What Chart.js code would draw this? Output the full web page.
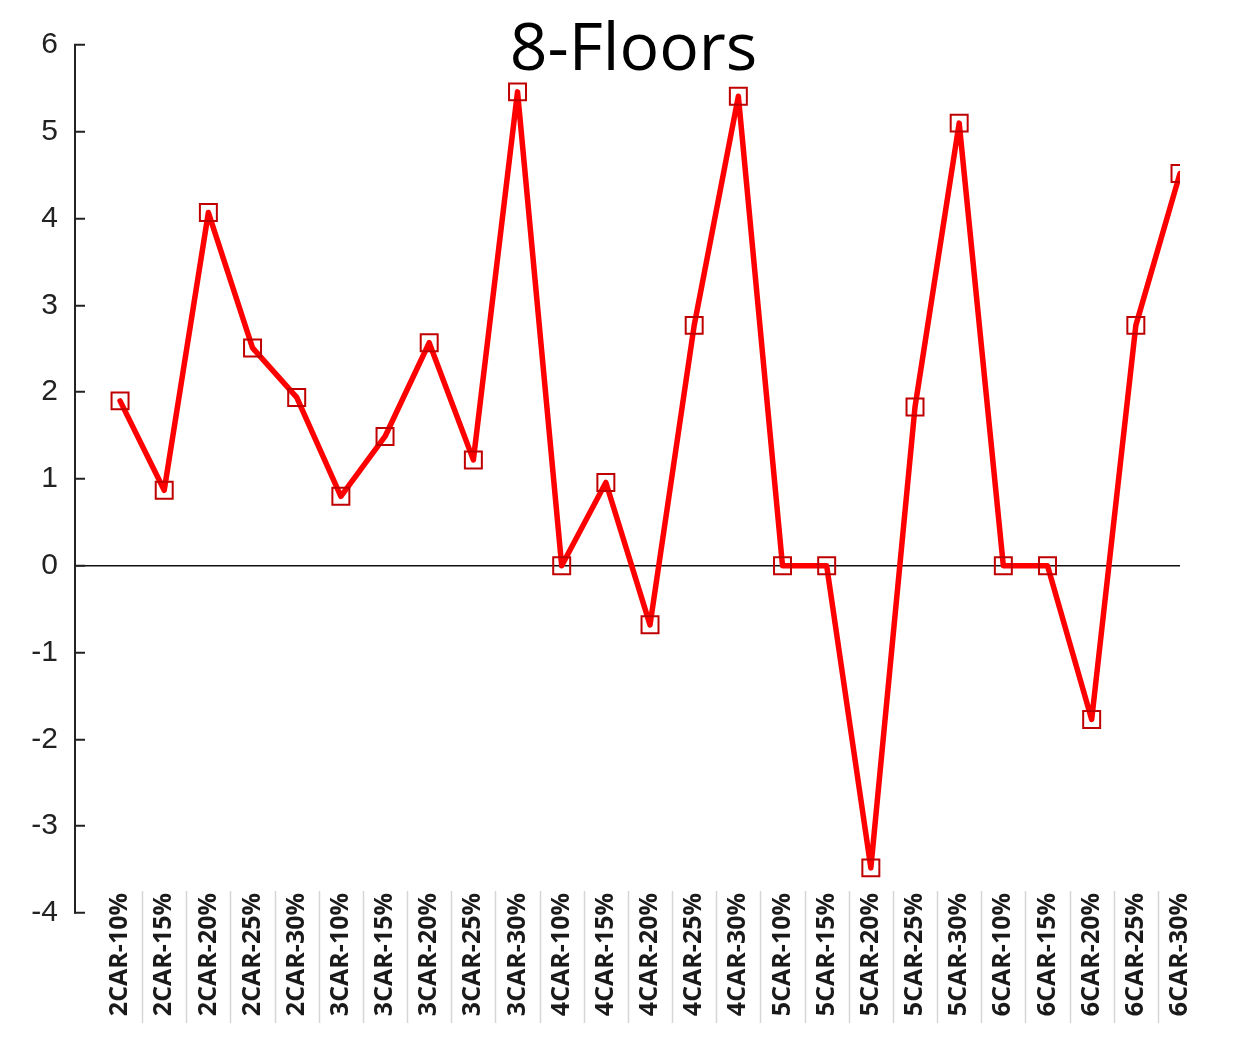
<!DOCTYPE html>
<html>
<head>
<meta charset="utf-8">
<script src="https://cdn.jsdelivr.net/npm/chart.js@4.4.0/dist/chart.umd.min.js"></script>
<style>
  html, body { margin: 0; padding: 0; background: #fff; }
  #wrap { width: 1253px; height: 1045px; }
</style>
</head>
<body>
<div id="wrap"><canvas id="chart"></canvas></div>
<script>
// categorias del eje x
const categories = [
  '2CAR-10%', '2CAR-15%', '2CAR-20%', '2CAR-25%', '2CAR-30%',
  '3CAR-10%', '3CAR-15%', '3CAR-20%', '3CAR-25%', '3CAR-30%',
  '4CAR-10%', '4CAR-15%', '4CAR-20%', '4CAR-25%', '4CAR-30%',
  '5CAR-10%', '5CAR-15%', '5CAR-20%', '5CAR-25%', '5CAR-30%',
  '6CAR-10%', '6CAR-15%', '6CAR-20%', '6CAR-25%', '6CAR-30%'
];
// valores
const diffValues = [
  1.90, 0.87, 4.07, 2.51, 1.94,
  0.80, 1.49, 2.57, 1.22, 5.46,
  0.00, 0.96, -0.68, 2.77, 5.41,
  0.00, 0.00, -3.48, 1.83, 5.10,
  0.00, 0.00, -1.77, 2.77, 4.52
];
const yMin = -4;
const yMax = 6;

// lineas grises entre etiquetas + titulo centrado en todo el canvas
const separators = {
  id: 'separators',
  afterLayout(chart) {
    if (chart.titleBlock) {
      chart.titleBlock.left = 0;
      chart.titleBlock.right = chart.width + 14;
    }
    // las etiquetas del eje x suben un poco sobre el area del grafico
    chart.scales.x.top = chart.chartArea.bottom - 20;
  },
  afterDraw(chart) {
    const x = chart.scales.x;
    const area = chart.chartArea;
    const ctx = chart.ctx;
    ctx.save();
    ctx.strokeStyle = '#d6d6d6';
    ctx.lineWidth = 1.5;
    for (let i = 0; i < categories.length - 1; i++) {
      const px = Math.round(x.getPixelForValue(i + 0.5)) + 0.5;
      ctx.beginPath();
      ctx.moveTo(px, area.bottom - 22);
      ctx.lineTo(px, area.bottom + 110);
      ctx.stroke();
    }
    ctx.restore();
  }
};

new Chart(document.getElementById('chart'), {
  type: 'line',
  data: {
    datasets: [{
      label: '8-Floors',
      data: diffValues.map((v, i) => ({ x: i, y: v })),
      borderColor: '#ff0000',
      borderWidth: 5.5,
      borderJoinStyle: 'round',
      borderCapStyle: 'round',
      tension: 0,
      pointStyle: 'rect',
      pointRadius: 12,
      pointBorderWidth: 2,
      pointBorderColor: '#c00000',
      pointBackgroundColor: 'rgba(0,0,0,0)'
    }]
  },
  options: {
    responsive: true,
    maintainAspectRatio: false,
    animation: false,
    layout: { padding: { left: 0, right: 73, top: 0, bottom: 0 } },
    plugins: {
      legend: { display: false },
      tooltip: { enabled: false },
      title: {
        display: true,
        text: '8-Floors',
        color: '#000',
        font: { family: 'Open Sans', size: 66, weight: 'normal' },
        padding: { top: 9, bottom: -46 }
      }
    },
    scales: {
      x: {
        type: 'linear',
        min: -1.02,
        max: categories.length - 1,
        afterBuildTicks: function(scale) {
          scale.ticks = categories.map((c, i) => ({ value: i }));
        },
        afterFit: function(scale) { scale.height = 132; },
        border: { display: false },
        grid: { drawOnChartArea: false, drawTicks: false },
        ticks: {
          autoSkip: false,
          minRotation: 90,
          maxRotation: 90,
          padding: 0,
          color: '#1a1a1a',
          font: { family: 'Open Sans', size: 25, weight: 'bold' },
          callback: function(value) { return categories[value]; }
        }
      },
      y: {
        min: yMin,
        max: yMax,
        afterFit: function(scale) { scale.width = 75; },
        border: { color: '#222', width: 2 },
        grid: {
          color: function(ctx) { return ctx.tick && ctx.tick.value === 0 ? '#111' : 'rgba(0,0,0,0)'; },
          lineWidth: 1.5,
          tickLength: -10,
          tickColor: '#222',
          tickWidth: 2
        },
        ticks: {
          stepSize: 1,
          padding: 27,
          color: '#222',
          font: { family: 'Liberation Sans', size: 30 }
        }
      }
    }
  },
  plugins: [separators]
});
</script>
</body>
</html>
